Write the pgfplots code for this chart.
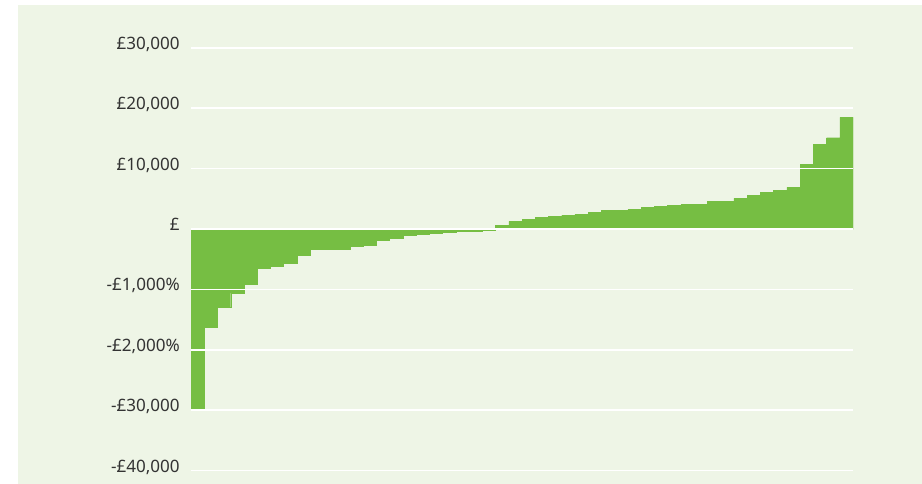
\documentclass[border=0pt]{standalone}
\usepackage{fontspec}
\setmainfont{Noto Sans}
\usepackage{pgfplots}
\pgfplotsset{compat=1.18}
\definecolor{panelbg}{HTML}{EEF5E6}
\definecolor{bargreen}{HTML}{76BE43}
\definecolor{labelgray}{HTML}{333333}

\begin{document}
\begin{tikzpicture}
  % page and panel (1px = 0.75pt)
  \fill[white] (0pt,0pt) rectangle (691.5pt,363pt);
  \fill[panelbg] (13.5pt,0pt) rectangle (691.5pt,359.25pt);
  \begin{axis}[
      at={(143.25pt,9.975pt)}, anchor=south west,
      scale only axis,
      width=496.5pt, height=317.25pt,
      xmin=0.5, xmax=50.5,
      ymin=-40000, ymax=30000,
      axis line style={draw=none},
      major tick length=0pt,
      xtick=\empty,
      ytick={-40000,-30000,-20000,-10000,0,10000,20000,30000},
      yticklabels={{-£40,000},{-£30,000},{-£2,000\%},{-£1,000\%},{£},{£10,000},{£20,000},{£30,000}},
      ymajorgrids=true,
      grid style={white, line width=1.2pt},
      axis on top,
      scaled y ticks=false,
      yticklabel style={font=\fontsize{12.8}{15}\selectfont, text=labelgray,
        anchor=base east, inner sep=0pt, xshift=-8.25pt, yshift=-1.1pt},
    ]
    \addplot[ybar, bar width=1, fill=bargreen, draw=bargreen, line width=0.3pt]
      coordinates {
        (1,-29900) (2,-16300) (3,-12950) (4,-10600) (5,-9150)
        (6,-6550) (7,-6200) (8,-5650) (9,-4350) (10,-3400)
        (11,-3400) (12,-3400) (13,-2900) (14,-2700) (15,-1850)
        (16,-1600) (17,-1050) (18,-850) (19,-700) (20,-550)
        (21,-400) (22,-400) (23,-150) (24,550) (25,1250)
        (26,1550) (27,1900) (28,2050) (29,2250) (30,2400)
        (31,2750) (32,3050) (33,3050) (34,3200) (35,3550)
        (36,3700) (37,3900) (38,4050) (39,4050) (40,4550)
        (41,4550) (42,5050) (43,5550) (44,6050) (45,6400)
        (46,6900) (47,10650) (48,13950) (49,15100) (50,18450)
      };
  \end{axis}
\end{tikzpicture}
\end{document}
